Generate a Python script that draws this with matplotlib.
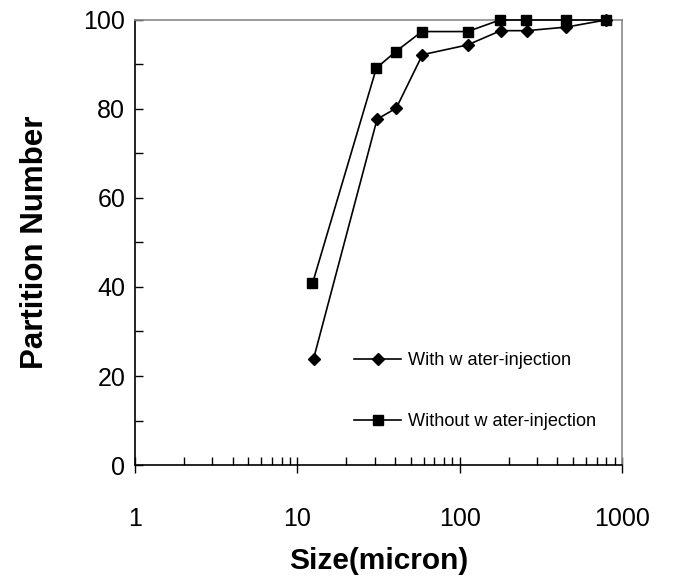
import matplotlib
matplotlib.use("Agg")
import matplotlib.pyplot as plt
from matplotlib.ticker import LogLocator, MultipleLocator, FixedLocator, NullFormatter

# particle size (micron) and partition number
size_with = [12.6, 31, 40.7, 59, 112, 179, 259, 453, 796]
part_with = [23.9, 77.7, 80.2, 92.2, 94.4, 97.6, 97.6, 98.4, 100]

size_without = [12.4, 30.7, 40.4, 58.5, 112, 177, 258, 451, 796]
part_without = [40.8, 89.2, 92.9, 97.4, 97.4, 100, 100, 100, 100]

series_labels = ["With w ater-injection", "Without w ater-injection"]
x_ticks = [1, 10, 100, 1000]
x_ticklabels = ["1", "10", "100", "1000"]
y_ticks = [0, 20, 40, 60, 80, 100]

plt.rcParams['font.family'] = ['Liberation Sans', 'DejaVu Sans']

fig = plt.figure(figsize=(6.93, 5.76), dpi=100)
ax = fig.add_axes([0.1948, 0.1927, 0.7027, 0.7726])

ax.plot(size_with, part_with, color="black", lw=1.2, marker="D", ms=6.5,
        label=series_labels[0], clip_on=False, zorder=3)
ax.plot(size_without, part_without, color="black", lw=1.2, marker="s", ms=7.5,
        label=series_labels[1], clip_on=False, zorder=3)

ax.set_xscale("log")
ax.set_xlim(1, 1000)
ax.set_ylim(0, 100)

ax.xaxis.set_major_locator(FixedLocator(x_ticks))
ax.set_xticklabels(x_ticklabels)
ax.xaxis.set_minor_locator(LogLocator(base=10, subs=range(2, 10)))
ax.xaxis.set_minor_formatter(NullFormatter())
ax.set_yticks(y_ticks)
ax.yaxis.set_minor_locator(MultipleLocator(10))

ax.tick_params(axis="x", which="major", direction="inout", length=12, width=1,
               labelsize=18, pad=24)
ax.tick_params(axis="x", which="minor", direction="in", length=6, width=1)
ax.tick_params(axis="y", which="both", direction="in", length=6, width=1,
               labelsize=18, pad=7)

for side in ["left", "bottom"]:
    ax.spines[side].set_color("black")
    ax.spines[side].set_linewidth(1.2)
for side in ["top", "right"]:
    ax.spines[side].set_color("#8a8a8a")
    ax.spines[side].set_linewidth(1.2)

ax.set_xlabel("Size(micron)", fontsize=21.5, fontweight="bold", labelpad=12)
ax.set_ylabel("Partition Number", fontsize=22.5, fontweight="bold", labelpad=24)

ax.legend(loc="upper left", bbox_to_anchor=(0.45, 0.253), frameon=False,
          fontsize=13.1, handlelength=2.6, handletextpad=0.35,
          labelspacing=2.4, borderpad=0, borderaxespad=0)

fig.savefig("out.png", dpi=100)
